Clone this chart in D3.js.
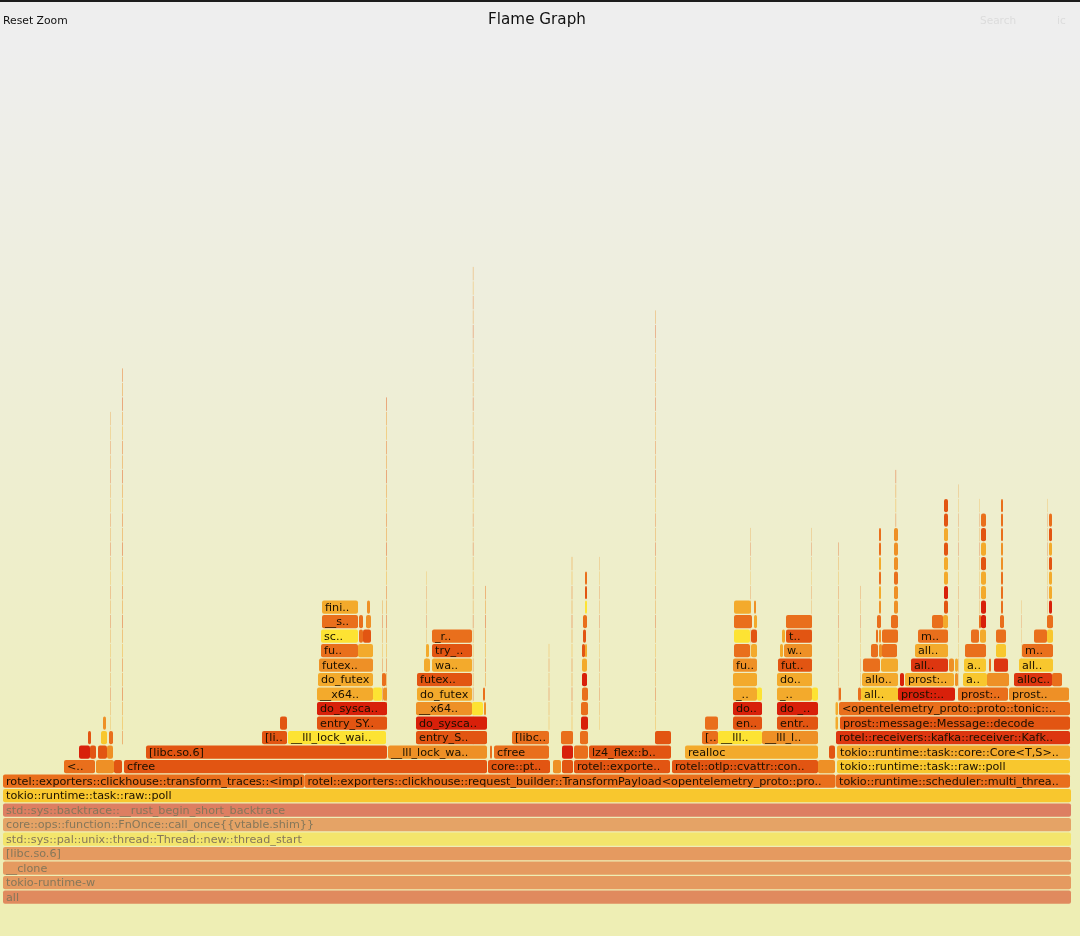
<!DOCTYPE html>
<html><head><meta charset="utf-8">
<script src="https://cdn.jsdelivr.net/npm/d3@7"></script>
<style>html,body{margin:0;padding:0;background:#eee;overflow:hidden}svg{display:block;filter:blur(0.35px)}</style>
</head><body><div id="chart"></div>
<script>
// Frames per stack depth: [first sample, last sample, heat class, label]
const depth0=[[3,1071,"A","all"]];
const depth1=[[3,1071,"B","tokio-runtime-w"]];
const depth2=[[3,1071,"B","__clone"]];
const depth3=[[3,1071,"B","[libc.so.6]"]];
const depth4=[[3,1071,"C","std::sys::pal::unix::thread::Thread::new::thread_start"]];
const depth5=[[3,1071,"D","core::ops::function::FnOnce::call_once{{vtable.shim}}"]];
const depth6=[[3,1071,"E","std::sys::backtrace::__rust_begin_short_backtrace"]];
const depth7=[[3,1071,"y","tokio::runtime::task::raw::poll"]];
const depth8=[[3,304.5,"o","rotel::exporters::clickhouse::transform_traces::<impl"],[304.5,835.5,"o","rotel::exporters::clickhouse::request_builder::TransformPayload<opentelemetry_proto::pro.."],[836,1070,"o","tokio::runtime::scheduler::multi_threa.."]];
const depth9=[[64,95,"o","<.."],[96,114,"m",""],[114,122,"d",""],[124,487,"d","cfree"],[488,550,"d","core::pt.."],[553,561,"m",""],[562,573,"d",""],[574,670,"d","rotel::exporte.."],[672,818,"d","rotel::otlp::cvattr::con.."],[818,835,"m",""],[837,1070,"y","tokio::runtime::task::raw::poll"]];
const depth10=[[79,90,"r",""],[90,96,"d",""],[98,107,"d",""],[107,113,"m",""],[146,387,"d","[libc.so.6]"],[388,487,"m","__lll_lock_wa.."],[490,492,"o",""],[494,549,"o","cfree"],[562,573,"r",""],[574,588,"o",""],[589,671,"d","lz4_flex::b.."],[685,818,"a","realloc"],[829,835,"d",""],[837,1070,"a","tokio::runtime::task::core::Core<T,S>.."]];
const depth11=[[88,91,"d",""],[101,107,"y",""],[109,113,"o",""],[262,287,"d","[li.."],[288,386,"l","__lll_lock_wai.."],[416,487,"d","entry_S.."],[512,549,"o","[libc.."],[561,573,"o",""],[580,588,"o",""],[655,671,"d",""],[702,718,"o","[.."],[718,762,"l","__lll.."],[762,818,"m","__lll_l.."],[836,1070,"s","rotel::receivers::kafka::receiver::Kafk.."]];
const depth12=[[103,106,"m",""],[280,287,"d",""],[317,387,"d","entry_SY.."],[416,487,"r","do_sysca.."],[581,588,"r",""],[705,718,"o",""],[733,762,"d","en.."],[777,818,"d","entr.."],[835.5,838,"a",""],[840,1070,"d","prost::message::Message::decode"]];
const depth13=[[317,387,"r","do_sysca.."],[416,472,"m","__x64.."],[472,483,"l",""],[484,486,"m",""],[581,588,"o",""],[733,762,"r","do.."],[777,818,"r","do _.."],[835.5,838,"a",""],[839,1070,"o","<opentelemetry_proto::proto::tonic::.."]];
const depth14=[[317,373,"a","__x64.."],[373,382,"l",""],[383,387,"m",""],[417,472,"a","do_futex"],[483,485,"o",""],[582,588,"o",""],[733,757,"a","_.."],[757,762,"l",""],[777,812,"a","_.."],[812,818,"l",""],[839,841,"o",""],[858,861,"o",""],[861,898,"y","all.."],[898,955,"r","prost::.."],[958,1008,"o","prost:.."],[1009,1069,"m","prost.."]];
const depth15=[[318,373,"a","do_futex"],[382,386,"o",""],[417,472,"d","futex.."],[582,587,"r",""],[733,757,"a",""],[777,812,"a","do.."],[862,898,"a","allo.."],[900,904,"r",""],[905,954,"a","prost:.."],[955,958,"m",""],[963,987,"y","a.."],[987,1009,"m",""],[1014,1052,"s","alloc.."],[1052,1062,"o",""]];
const depth16=[[319,373,"m","futex.."],[424,430,"a",""],[432,472,"a","wa.."],[582,587,"a",""],[733,757,"m","fu.."],[778,812,"d","fut.."],[863,880,"o",""],[881,898,"a",""],[911,948,"s","all.."],[949,954,"m",""],[955,958,"a",""],[964,986,"y","a.."],[989,991,"o",""],[994,1008,"s",""],[1019,1053,"y","all.."]];
const depth17=[[321,358,"o","fu.."],[358,373,"a",""],[426,429,"a",""],[432,472,"d","try_.."],[582,585,"d",""],[585,587,"a",""],[734,750,"o",""],[751,757,"a",""],[780,783,"a",""],[784,812,"m","w.."],[871,878,"o",""],[879,882,"m",""],[882,897,"o",""],[915,948,"a","all.."],[965,986,"o",""],[996,1006,"y",""],[1022,1053,"o","m.."]];
const depth18=[[321,358,"l","sc.."],[359,363,"o",""],[363,371,"d",""],[432,472,"o","_r.."],[583,586,"d",""],[734,750,"l",""],[751,757,"d",""],[782,785,"a",""],[786,812,"d","t.."],[876,878,"o",""],[879,881,"m",""],[882,898,"o",""],[918,948,"o","m.."],[971,979,"o",""],[980,986,"a",""],[996,1006,"o",""],[1034,1047,"o",""],[1047,1053,"y",""]];
const depth19=[[322,358,"o","__s.."],[359,363,"o",""],[366,371,"m",""],[583,587,"o",""],[734,752,"o",""],[754,757,"a",""],[786,812,"o",""],[877,881,"o",""],[891,898,"o",""],[932,943,"o",""],[943,948,"a",""],[979,981,"o",""],[981,986,"r",""],[1000,1004,"o",""],[1047,1053,"o",""]];
const depth20=[[322,358,"a","fini.."],[367,370,"m",""],[585,587,"l",""],[734,751,"a",""],[754,756,"m",""]];
const allDepths=[depth0,depth1,depth2,depth3,depth4,depth5,depth6,depth7,depth8,depth9,depth10,depth11,depth12,depth13,depth14,depth15,depth16,depth17,depth18,depth19,depth20];

// Narrow towers: [first sample, last sample, first depth, heat class of each frame going up]
const towers=[
 [879,881,20,"maoaoo"],[894,898,20,"mmommm"],[944,948,20,"draadadd"],
 [981,986,20,"raadado"],[1001,1003,20,"ooommooo"],[1049,1052,20,"raadado"],[585,587,21,"do"]
];
// Hair-thin towers, faint: [first sample, last sample, first depth, last depth]
const hairlines=[
 [110.3,111,11,33],[122,123,11,36],[386,387,12,34],[472.8,473.6,11,43],[655.2,656,12,40],
 [548.6,549.4,12,17],[571.5,572.5,11,23],[599,599.6,12,23],[485,486,15,21],[426,426.6,16,22],
 [382,382.8,13,20],[750,750.6,16,25],[811,811.6,15,25],[838.3,839,14,24],[860.4,861,15,21],
 [895.3,896.2,25,29],[958,958.6,14,28],[979,979.6,19,27],[1021.5,1022,16,20],[1047,1047.6,20,27]
];
const hairHeat=["m","o","a","m","d"];
const heatClasses=["r","s","d","x","o","m","a","y","l","A","B","C","D","E"];
const heatColours=["#d8200a","#dd3610","#e25512","#e0470f","#e96f1c","#ee9026","#f3aa2c","#f8c72e","#fde333","#e08a5e","#e59a60","#f3e56c","#e5a366","#dd7f62"];
const mutedClasses=new Set(["A","B","C","D","E"]);
const chartTitle="Flame Graph", resetLabel="Reset Zoom", searchLabel="Search", icLabel="ic";

const W=1080,H=936;
const x=d3.scaleLinear().domain([0,W]).range([0,W]);
const y=d3.scaleLinear().domain([0,1]).range([890.4,875.9]); // depth -> top of the frame
const colour=d3.scaleOrdinal().domain(heatClasses).range(heatColours);
const FONT='"DejaVu Sans",Verdana,sans-serif';

const svg=d3.select("#chart").append("svg").attr("width",W).attr("height",H);
const grad=svg.append("defs").append("linearGradient").attr("id","bg").attr("x1",0).attr("x2",0).attr("y1",0).attr("y2",1);
grad.append("stop").attr("offset","5%").attr("stop-color","#eeeeee");
grad.append("stop").attr("offset","95%").attr("stop-color","#eeeeb4");
svg.append("rect").attr("width",W).attr("height",H).attr("fill","url(#bg)");
svg.append("rect").attr("width",W).attr("height",2).attr("fill","#1c1c1c");

const frames=allDepths.flatMap((row,depth)=>row.map(f=>({depth,x0:f[0],x1:f[1],heat:f[2],name:f[3]})));
towers.forEach(t=>[...t[3]].forEach((h,i)=>frames.push({depth:t[2]+i,x0:t[0],x1:t[1],heat:h,name:""})));

const hair=[];
hairlines.forEach(h=>{for(let d=h[2],i=0;d<=h[3];d++,i++)hair.push({depth:d,x0:h[0],x1:h[1],heat:hairHeat[(i+h[2])%hairHeat.length]});});

svg.append("g").selectAll("rect").data(hair).join("rect")
 .attr("x",d=>x(d.x0)).attr("width",d=>x(d.x1)-x(d.x0))
 .attr("y",d=>y(d.depth)).attr("height",13.4)
 .attr("fill",d=>colour(d.heat)).attr("opacity",0.45);

const g=svg.append("g").selectAll("g").data(frames).join("g");
g.append("rect")
 .attr("x",d=>x(d.x0)).attr("width",d=>x(d.x1)-x(d.x0))
 .attr("y",d=>y(d.depth)).attr("height",13.4)
 .attr("rx",2).attr("ry",2)
 .attr("fill",d=>colour(d.heat));
g.filter(d=>d.name).append("text")
 .attr("x",d=>x(d.x0)+3).attr("y",d=>y(d.depth)+10.4)
 .attr("font-family",FONT).attr("font-size",11.2)
 .attr("fill",d=>mutedClasses.has(d.heat)?"#85775a":"#1a1000")
 .text(d=>d.name);

const hdr=svg.append("g").attr("font-family",FONT);
hdr.append("text").attr("x",537).attr("y",24).attr("text-anchor","middle").attr("font-size",15.2).attr("fill","#111").text(chartTitle);
hdr.append("text").attr("x",3).attr("y",24).attr("font-size",10.8).attr("fill","#111").text(resetLabel);
hdr.append("text").attr("x",980).attr("y",24).attr("font-size",10.5).attr("fill","#dcdcdc").text(searchLabel);
hdr.append("text").attr("x",1057).attr("y",24).attr("font-size",10.5).attr("fill","#dcdcdc").text(icLabel);
</script></body></html>
